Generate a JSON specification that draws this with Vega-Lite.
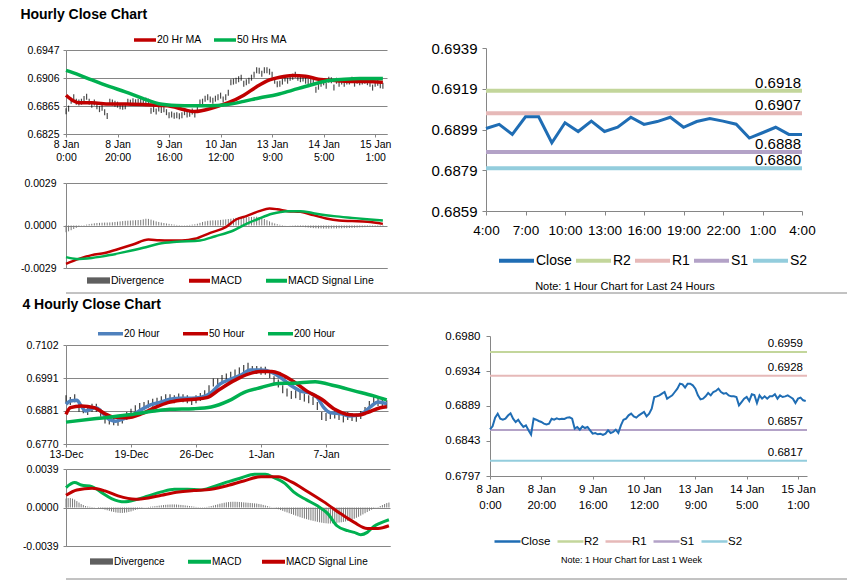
{
"$schema": "https://vega.github.io/schema/vega-lite/v6.json",
"padding": {"left": 20, "top": 8, "right": 0, "bottom": 0},
"autosize": {"type": "pad"},
"spacing": 0,
"resolve": {"scale": {"x": "independent", "y": "independent", "color": "independent", "opacity": "independent"}},
"config": {
  "view": {"stroke": null},
  "font": "Liberation Sans",
  "axis": {"labelFont": "Liberation Sans", "domainColor": "#868686", "tickColor": "#868686", "gridColor": "#868686", "labelColor": "#000000"},
  "legend": {"labelFont": "Liberation Sans", "labelColor": "#000000"},
  "title": {"font": "Liberation Sans", "color": "#000000"}
},
"datasets": {
  "h": [
{"i":0,"c":0.6858,"d":-0.00046},{"i":1,"c":0.68619,"d":-0.0004},{"i":2,"c":0.68733,"d":-0.00032},{"i":3,"c":0.68785,"d":-0.00024},{"i":4,"c":0.68719,"d":-0.00016},{"i":5,"c":0.68706,"d":-0.00008},{"i":6,"c":0.68719,"d":-0.00002},{"i":7,"c":0.6876,"d":0.00003},{"i":8,"c":0.6879,"d":0.00006},{"i":9,"c":0.6872,"d":0.00009},
{"i":10,"c":0.68676,"d":0.00012},{"i":11,"c":0.68706,"d":0.00015},{"i":12,"c":0.68654,"d":0.00017},{"i":13,"c":0.68611,"d":0.00018},{"i":14,"c":0.68632,"d":0.00019},{"i":15,"c":0.68567,"d":0.0002},{"i":16,"c":0.6851,"d":0.0002},{"i":17,"c":0.68719,"d":0.00021},{"i":18,"c":0.68706,"d":0.00022},{"i":19,"c":0.68689,"d":0.00024},
{"i":20,"c":0.68676,"d":0.00026},{"i":21,"c":0.68654,"d":0.00028},{"i":22,"c":0.68645,"d":0.0003},{"i":23,"c":0.68654,"d":0.00032},{"i":24,"c":0.68719,"d":0.00033},{"i":25,"c":0.68706,"d":0.00034},{"i":26,"c":0.68724,"d":0.00035},{"i":27,"c":0.68711,"d":0.00036},{"i":28,"c":0.68719,"d":0.00037},{"i":29,"c":0.68715,"d":0.00038},
{"i":30,"c":0.68733,"d":0.00042},{"i":31,"c":0.68737,"d":0.00046},{"i":32,"c":0.68719,"d":0.00045},{"i":33,"c":0.68589,"d":0.0004},{"i":34,"c":0.68611,"d":0.00034},{"i":35,"c":0.68576,"d":0.00028},{"i":36,"c":0.68619,"d":0.00024},{"i":37,"c":0.68597,"d":0.0002},{"i":38,"c":0.68611,"d":0.00017},{"i":39,"c":0.68567,"d":0.00014},
{"i":40,"c":0.68523,"d":0.00011},{"i":41,"c":0.68532,"d":0.00008},{"i":42,"c":0.68515,"d":0.00006},{"i":43,"c":0.68523,"d":0.00004},{"i":44,"c":0.68506,"d":0.00003},{"i":45,"c":0.68523,"d":0.00002},{"i":46,"c":0.68567,"d":0.00002},{"i":47,"c":0.68532,"d":0.00003},{"i":48,"c":0.68545,"d":0.00004},{"i":49,"c":0.68576,"d":0.00006},
{"i":50,"c":0.68532,"d":0.00008},{"i":51,"c":0.68632,"d":0.00012},{"i":52,"c":0.68706,"d":0.00018},{"i":53,"c":0.68719,"d":0.00024},{"i":54,"c":0.68763,"d":0.00028},{"i":55,"c":0.68785,"d":0.00032},{"i":56,"c":0.6875,"d":0.00034},{"i":57,"c":0.68733,"d":0.00035},{"i":58,"c":0.68763,"d":0.00035},{"i":59,"c":0.68785,"d":0.00036},
{"i":60,"c":0.68807,"d":0.00038},{"i":61,"c":0.6875,"d":0.0004},{"i":62,"c":0.68785,"d":0.00042},{"i":63,"c":0.6885,"d":0.00044},{"i":64,"c":0.69003,"d":0.00046},{"i":65,"c":0.69011,"d":0.00049},{"i":66,"c":0.69024,"d":0.00052},{"i":67,"c":0.69046,"d":0.00054},{"i":68,"c":0.69068,"d":0.00055},{"i":69,"c":0.68981,"d":0.00056},
{"i":70,"c":0.69003,"d":0.00057},{"i":71,"c":0.69024,"d":0.00058},{"i":72,"c":0.69068,"d":0.00058},{"i":73,"c":0.69112,"d":0.00059},{"i":74,"c":0.69177,"d":0.0006},{"i":75,"c":0.69168,"d":0.00056},{"i":76,"c":0.69125,"d":0.0005},{"i":77,"c":0.69177,"d":0.00044},{"i":78,"c":0.69177,"d":0.00036},{"i":79,"c":0.69155,"d":0.00028},
{"i":80,"c":0.69112,"d":0.0002},{"i":81,"c":0.69024,"d":0.00014},{"i":82,"c":0.68972,"d":0.00009},{"i":83,"c":0.68981,"d":0.00005},{"i":84,"c":0.69011,"d":0.00003},{"i":85,"c":0.69055,"d":0.00001},{"i":86,"c":0.69024,"d":0},{"i":87,"c":0.69068,"d":-0.00001},{"i":88,"c":0.69081,"d":-0.00002},{"i":89,"c":0.69112,"d":-0.00004},
{"i":90,"c":0.69068,"d":-0.00006},{"i":91,"c":0.69046,"d":-0.00008},{"i":92,"c":0.69055,"d":-0.0001},{"i":93,"c":0.69024,"d":-0.00012},{"i":94,"c":0.69011,"d":-0.00014},{"i":95,"c":0.69011,"d":-0.00016},{"i":96,"c":0.69003,"d":-0.00018},{"i":97,"c":0.68894,"d":-0.00019},{"i":98,"c":0.68937,"d":-0.0002},{"i":99,"c":0.68981,"d":-0.0002},
{"i":100,"c":0.69003,"d":-0.00021},{"i":101,"c":0.6895,"d":-0.00021},{"i":102,"c":0.69038,"d":-0.00021},{"i":103,"c":0.69029,"d":-0.0002},{"i":104,"c":0.68924,"d":-0.0002},{"i":105,"c":0.69024,"d":-0.0002},{"i":106,"c":0.68981,"d":-0.00019},{"i":107,"c":0.69011,"d":-0.00019},{"i":108,"c":0.68981,"d":-0.00018},{"i":109,"c":0.69011,"d":-0.00018},
{"i":110,"c":0.69011,"d":-0.00017},{"i":111,"c":0.69038,"d":-0.00016},{"i":112,"c":0.68981,"d":-0.00015},{"i":113,"c":0.69024,"d":-0.00014},{"i":114,"c":0.69003,"d":-0.00013},{"i":115,"c":0.69011,"d":-0.00012},{"i":116,"c":0.69024,"d":-0.00011},{"i":117,"c":0.69003,"d":-0.0001},{"i":118,"c":0.68981,"d":-0.0001},{"i":119,"c":0.68924,"d":-0.00009},
{"i":120,"c":0.68981,"d":-0.00009},{"i":121,"c":0.68994,"d":-0.00008},{"i":122,"c":0.68959,"d":-0.00008},{"i":123,"c":0.6895,"d":-0.00008}
  ],
  "hma": [
{"s":"20 Hr MA","i":0,"v":0.68813},{"s":"20 Hr MA","i":3,"v":0.68729},{"s":"20 Hr MA","i":5,"v":0.68704},{"s":"20 Hr MA","i":10,"v":0.68704},{"s":"20 Hr MA","i":17,"v":0.68685},{"s":"20 Hr MA","i":23,"v":0.68685},{"s":"20 Hr MA","i":31,"v":0.68675},{"s":"20 Hr MA","i":36,"v":0.68665},{"s":"20 Hr MA","i":41,"v":0.6865},{"s":"20 Hr MA","i":46,"v":0.68601},{"s":"20 Hr MA","i":50,"v":0.68576},{"s":"20 Hr MA","i":53,"v":0.68591},{"s":"20 Hr MA","i":58,"v":0.6864},{"s":"20 Hr MA","i":63,"v":0.68704},{"s":"20 Hr MA","i":69,"v":0.68813},{"s":"20 Hr MA","i":74,"v":0.68937},{"s":"20 Hr MA","i":79,"v":0.69035},{"s":"20 Hr MA","i":83,"v":0.69075},{"s":"20 Hr MA","i":88,"v":0.691},{"s":"20 Hr MA","i":93,"v":0.6909},{"s":"20 Hr MA","i":98,"v":0.69045},{"s":"20 Hr MA","i":101,"v":0.69035},{"s":"20 Hr MA","i":106,"v":0.6902},{"s":"20 Hr MA","i":111,"v":0.69011},{"s":"20 Hr MA","i":117,"v":0.69011},{"s":"20 Hr MA","i":123,"v":0.69001},
{"s":"50 Hrs MA","i":0,"v":0.69174},{"s":"50 Hrs MA","i":5,"v":0.69109},{"s":"50 Hrs MA","i":10,"v":0.69035},{"s":"50 Hrs MA","i":17,"v":0.68937},{"s":"50 Hrs MA","i":23,"v":0.68862},{"s":"50 Hrs MA","i":30,"v":0.68764},{"s":"50 Hrs MA","i":36,"v":0.6869},{"s":"50 Hrs MA","i":43,"v":0.68665},{"s":"50 Hrs MA","i":49,"v":0.6866},{"s":"50 Hrs MA","i":56,"v":0.6866},{"s":"50 Hrs MA","i":62,"v":0.68675},{"s":"50 Hrs MA","i":69,"v":0.68724},{"s":"50 Hrs MA","i":75,"v":0.68774},{"s":"50 Hrs MA","i":82,"v":0.68823},{"s":"50 Hrs MA","i":88,"v":0.68887},{"s":"50 Hrs MA","i":95,"v":0.68961},{"s":"50 Hrs MA","i":101,"v":0.6902},{"s":"50 Hrs MA","i":108,"v":0.69045},{"s":"50 Hrs MA","i":114,"v":0.69055},{"s":"50 Hrs MA","i":123,"v":0.69055}
  ],
  "hmacd": [
{"s":"MACD","i":0,"v":-0.00262},{"s":"MACD","i":5,"v":-0.00228},{"s":"MACD","i":10,"v":-0.00202},{"s":"MACD","i":15,"v":-0.00187},{"s":"MACD","i":21,"v":-0.00157},{"s":"MACD","i":26,"v":-0.0013},{"s":"MACD","i":32,"v":-0.00096},{"s":"MACD","i":36,"v":-0.001},{"s":"MACD","i":40,"v":-0.00102},{"s":"MACD","i":45,"v":-0.00102},{"s":"MACD","i":50,"v":-0.00091},{"s":"MACD","i":56,"v":-0.0005},{"s":"MACD","i":62,"v":-0.00011},{"s":"MACD","i":66,"v":0.00041},{"s":"MACD","i":70,"v":0.00064},{"s":"MACD","i":75,"v":0.00098},{"s":"MACD","i":79,"v":0.00116},{"s":"MACD","i":82,"v":0.00111},{"s":"MACD","i":86,"v":0.00098},{"s":"MACD","i":91,"v":0.00093},{"s":"MACD","i":96,"v":0.00071},{"s":"MACD","i":101,"v":0.00048},{"s":"MACD","i":106,"v":0.00034},{"s":"MACD","i":111,"v":0.0003},{"s":"MACD","i":117,"v":0.00025},{"s":"MACD","i":123,"v":0.00011},
{"s":"MACD Signal Line","i":0,"v":-0.00216},{"s":"MACD Signal Line","i":4,"v":-0.00228},{"s":"MACD Signal Line","i":10,"v":-0.00221},{"s":"MACD Signal Line","i":17,"v":-0.00202},{"s":"MACD Signal Line","i":23,"v":-0.0018},{"s":"MACD Signal Line","i":30,"v":-0.00152},{"s":"MACD Signal Line","i":36,"v":-0.00125},{"s":"MACD Signal Line","i":43,"v":-0.00111},{"s":"MACD Signal Line","i":52,"v":-0.00102},{"s":"MACD Signal Line","i":58,"v":-0.00073},{"s":"MACD Signal Line","i":65,"v":-0.00034},{"s":"MACD Signal Line","i":70,"v":0.00011},{"s":"MACD Signal Line","i":75,"v":0.00048},{"s":"MACD Signal Line","i":80,"v":0.0008},{"s":"MACD Signal Line","i":86,"v":0.00098},{"s":"MACD Signal Line","i":91,"v":0.00098},{"s":"MACD Signal Line","i":96,"v":0.00084},{"s":"MACD Signal Line","i":104,"v":0.00064},{"s":"MACD Signal Line","i":111,"v":0.00052},{"s":"MACD Signal Line","i":118,"v":0.00041},{"s":"MACD Signal Line","i":123,"v":0.00034}
  ],
  "c24": [
{"h":0,"c":0.68995},{"h":1,"c":0.69015},{"h":2,"c":0.68966},{"h":3,"c":0.69052},{"h":4,"c":0.69052},{"h":5,"c":0.68925},{"h":6,"c":0.69023},{"h":7,"c":0.6898},{"h":8,"c":0.69031},{"h":9,"c":0.6898},{"h":10,"c":0.69001},{"h":11,"c":0.6905},{"h":12,"c":0.69015},{"h":13,"c":0.69029},{"h":14,"c":0.6905},{"h":15,"c":0.69001},{"h":16,"c":0.69029},{"h":17,"c":0.69044},{"h":18,"c":0.69031},{"h":19,"c":0.69016},{"h":20,"c":0.68948},{"h":21,"c":0.68974},{"h":22,"c":0.69001},{"h":23,"c":0.68966},{"h":24,"c":0.68966}
  ],
  "lv24": [{"s":"R2","v":0.6918},{"s":"R1","v":0.6907},{"s":"S1","v":0.6888},{"s":"S2","v":0.688}],
  "lvw": [{"s":"R2","v":0.6959},{"s":"R1","v":0.6928},{"s":"S1","v":0.6857},{"s":"S2","v":0.6817}],
  "d4": [
{"i":0,"c":0.692},{"i":2,"c":0.69144},{"i":4,"c":0.69234},{"i":6,"c":0.68918},{"i":8,"c":0.68862},{"i":10,"c":0.68806},{"i":12,"c":0.68918},{"i":14,"c":0.68918},{"i":16,"c":0.68749},{"i":18,"c":0.68524},
{"i":20,"c":0.6849},{"i":22,"c":0.68467},{"i":24,"c":0.68445},{"i":26,"c":0.68524},{"i":28,"c":0.68637},{"i":30,"c":0.68749},{"i":32,"c":0.68862},{"i":34,"c":0.68941},{"i":36,"c":0.68975},{"i":38,"c":0.69031},
{"i":40,"c":0.69087},{"i":42,"c":0.69121},{"i":44,"c":0.69166},{"i":46,"c":0.69234},{"i":48,"c":0.69234},{"i":50,"c":0.692},{"i":52,"c":0.69256},{"i":54,"c":0.69234},{"i":56,"c":0.692},{"i":58,"c":0.69144},
{"i":60,"c":0.692},{"i":62,"c":0.69279},{"i":64,"c":0.69369},{"i":66,"c":0.69538},{"i":68,"c":0.69763},{"i":70,"c":0.69763},{"i":72,"c":0.69876},{"i":74,"c":0.69933},{"i":76,"c":0.69989},{"i":78,"c":0.70068},
{"i":80,"c":0.70135},{"i":82,"c":0.70214},{"i":84,"c":0.70293},{"i":86,"c":0.7018},{"i":88,"c":0.7018},{"i":90,"c":0.70158},{"i":92,"c":0.70158},{"i":94,"c":0.70045},{"i":96,"c":0.69842},{"i":98,"c":0.6973},
{"i":100,"c":0.69538},{"i":102,"c":0.69425},{"i":104,"c":0.69346},{"i":106,"c":0.69369},{"i":108,"c":0.69313},{"i":110,"c":0.69256},{"i":112,"c":0.692},{"i":114,"c":0.69144},{"i":116,"c":0.68975},{"i":118,"c":0.68637},
{"i":120,"c":0.68603},{"i":122,"c":0.6867},{"i":124,"c":0.68693},{"i":126,"c":0.68637},{"i":128,"c":0.68558},{"i":130,"c":0.68637},{"i":132,"c":0.68603},{"i":134,"c":0.6858},{"i":136,"c":0.6867},{"i":138,"c":0.68806},
{"i":140,"c":0.69008},{"i":142,"c":0.69144},{"i":144,"c":0.6911},{"i":146,"c":0.69087},{"i":148,"c":0.69031}
  ],
  "d4ma": [
{"s":"20 Hour","i":0,"v":0.69031},{"s":"20 Hour","i":2,"v":0.69144},{"s":"20 Hour","i":5,"v":0.69166},{"s":"20 Hour","i":7,"v":0.68975},{"s":"20 Hour","i":9,"v":0.68806},{"s":"20 Hour","i":11,"v":0.68862},{"s":"20 Hour","i":14,"v":0.68918},{"s":"20 Hour","i":16,"v":0.68806},{"s":"20 Hour","i":19,"v":0.6858},{"s":"20 Hour","i":23,"v":0.68467},{"s":"20 Hour","i":27,"v":0.68558},{"s":"20 Hour","i":30,"v":0.68637},{"s":"20 Hour","i":35,"v":0.68862},{"s":"20 Hour","i":39,"v":0.69008},{"s":"20 Hour","i":44,"v":0.6911},{"s":"20 Hour","i":48,"v":0.692},{"s":"20 Hour","i":53,"v":0.69234},{"s":"20 Hour","i":58,"v":0.69234},{"s":"20 Hour","i":62,"v":0.69256},{"s":"20 Hour","i":67,"v":0.69425},{"s":"20 Hour","i":71,"v":0.69707},{"s":"20 Hour","i":76,"v":0.69876},{"s":"20 Hour","i":81,"v":0.70023},{"s":"20 Hour","i":85,"v":0.7018},{"s":"20 Hour","i":90,"v":0.7018},{"s":"20 Hour","i":95,"v":0.70102},{"s":"20 Hour","i":99,"v":0.69932},{"s":"20 Hour","i":104,"v":0.69651},{"s":"20 Hour","i":108,"v":0.69482},{"s":"20 Hour","i":113,"v":0.69392},{"s":"20 Hour","i":116,"v":0.69256},{"s":"20 Hour","i":119,"v":0.68918},{"s":"20 Hour","i":122,"v":0.6875},{"s":"20 Hour","i":127,"v":0.68715},{"s":"20 Hour","i":131,"v":0.68637},{"s":"20 Hour","i":136,"v":0.68693},{"s":"20 Hour","i":141,"v":0.68975},{"s":"20 Hour","i":144,"v":0.6911},{"s":"20 Hour","i":148,"v":0.69053},
{"s":"50 Hour","i":0,"v":0.68693},{"s":"50 Hour","i":2,"v":0.68918},{"s":"50 Hour","i":7,"v":0.68975},{"s":"50 Hour","i":13,"v":0.68918},{"s":"50 Hour","i":18,"v":0.68715},{"s":"50 Hour","i":22,"v":0.68603},{"s":"50 Hour","i":28,"v":0.6858},{"s":"50 Hour","i":35,"v":0.68715},{"s":"50 Hour","i":41,"v":0.68918},{"s":"50 Hour","i":47,"v":0.69087},{"s":"50 Hour","i":53,"v":0.69166},{"s":"50 Hour","i":59,"v":0.692},{"s":"50 Hour","i":65,"v":0.69256},{"s":"50 Hour","i":71,"v":0.69538},{"s":"50 Hour","i":78,"v":0.69842},{"s":"50 Hour","i":84,"v":0.70045},{"s":"50 Hour","i":90,"v":0.70135},{"s":"50 Hour","i":95,"v":0.70135},{"s":"50 Hour","i":99,"v":0.70045},{"s":"50 Hour","i":105,"v":0.69797},{"s":"50 Hour","i":111,"v":0.69482},{"s":"50 Hour","i":118,"v":0.692},{"s":"50 Hour","i":124,"v":0.68862},{"s":"50 Hour","i":130,"v":0.68693},{"s":"50 Hour","i":135,"v":0.6867},{"s":"50 Hour","i":139,"v":0.6875},{"s":"50 Hour","i":145,"v":0.68918},{"s":"50 Hour","i":148,"v":0.68952},
{"s":"200 Hour","i":0,"v":0.68434},{"s":"200 Hour","i":13,"v":0.68546},{"s":"200 Hour","i":28,"v":0.6867},{"s":"200 Hour","i":41,"v":0.68806},{"s":"200 Hour","i":48,"v":0.68862},{"s":"200 Hour","i":59,"v":0.68884},{"s":"200 Hour","i":67,"v":0.68941},{"s":"200 Hour","i":75,"v":0.69144},{"s":"200 Hour","i":82,"v":0.69425},{"s":"200 Hour","i":90,"v":0.69594},{"s":"200 Hour","i":98,"v":0.6973},{"s":"200 Hour","i":105,"v":0.69741},{"s":"200 Hour","i":115,"v":0.69786},{"s":"200 Hour","i":124,"v":0.69651},{"s":"200 Hour","i":133,"v":0.69482},{"s":"200 Hour","i":142,"v":0.69313},{"s":"200 Hour","i":148,"v":0.69178}
  ],
  "d4macd": [
{"s":"MACD","i":0,"v":0.00202},{"s":"MACD","i":4,"v":0.00252},{"s":"MACD","i":7,"v":0.00228},{"s":"MACD","i":12,"v":0.00212},{"s":"MACD","i":16,"v":0.00158},{"s":"MACD","i":21,"v":0.00091},{"s":"MACD","i":27,"v":0.00057},{"s":"MACD","i":32,"v":0.00077},{"s":"MACD","i":38,"v":0.00118},{"s":"MACD","i":44,"v":0.00158},{"s":"MACD","i":50,"v":0.00185},{"s":"MACD","i":56,"v":0.00185},{"s":"MACD","i":62,"v":0.00178},{"s":"MACD","i":68,"v":0.00212},{"s":"MACD","i":75,"v":0.00262},{"s":"MACD","i":81,"v":0.00302},{"s":"MACD","i":87,"v":0.00336},{"s":"MACD","i":92,"v":0.00336},{"s":"MACD","i":96,"v":0.00302},{"s":"MACD","i":101,"v":0.00245},{"s":"MACD","i":105,"v":0.00158},{"s":"MACD","i":111,"v":0.00077},{"s":"MACD","i":116,"v":0.00017},{"s":"MACD","i":121,"v":-0.00067},{"s":"MACD","i":125,"v":-0.00185},{"s":"MACD","i":130,"v":-0.00235},{"s":"MACD","i":133,"v":-0.00252},{"s":"MACD","i":136,"v":-0.00276},{"s":"MACD","i":139,"v":-0.00252},{"s":"MACD","i":142,"v":-0.00192},{"s":"MACD","i":145,"v":-0.00158},{"s":"MACD","i":149,"v":-0.00124},
{"s":"MACD Signal Line","i":0,"v":0.00124},{"s":"MACD Signal Line","i":5,"v":0.00178},{"s":"MACD Signal Line","i":12,"v":0.00195},{"s":"MACD Signal Line","i":18,"v":0.00168},{"s":"MACD Signal Line","i":24,"v":0.00118},{"s":"MACD Signal Line","i":32,"v":0.00084},{"s":"MACD Signal Line","i":38,"v":0.00097},{"s":"MACD Signal Line","i":44,"v":0.00124},{"s":"MACD Signal Line","i":52,"v":0.00158},{"s":"MACD Signal Line","i":59,"v":0.00171},{"s":"MACD Signal Line","i":67,"v":0.00185},{"s":"MACD Signal Line","i":75,"v":0.00225},{"s":"MACD Signal Line","i":82,"v":0.00269},{"s":"MACD Signal Line","i":90,"v":0.00312},{"s":"MACD Signal Line","i":98,"v":0.00312},{"s":"MACD Signal Line","i":104,"v":0.00259},{"s":"MACD Signal Line","i":111,"v":0.00168},{"s":"MACD Signal Line","i":119,"v":0.00057},{"s":"MACD Signal Line","i":127,"v":-0.00067},{"s":"MACD Signal Line","i":133,"v":-0.00151},{"s":"MACD Signal Line","i":139,"v":-0.00212},{"s":"MACD Signal Line","i":144,"v":-0.00212},{"s":"MACD Signal Line","i":149,"v":-0.00185}
  ],
  "d4div": [
{"i":0,"d":0.0009},{"i":1,"d":0.00095},{"i":2,"d":0.00095},{"i":3,"d":0.0009},{"i":4,"d":0.0008},{"i":5,"d":0.00065},{"i":6,"d":0.0005},{"i":7,"d":0.00035},{"i":8,"d":0.00025},{"i":9,"d":0.00015},
{"i":10,"d":0.0001},{"i":11,"d":0.00007},{"i":12,"d":0.00005},{"i":13,"d":0.00003},{"i":14,"d":0},{"i":15,"d":-0.00005},{"i":16,"d":-0.0001},{"i":17,"d":-0.00016},{"i":18,"d":-0.00022},{"i":19,"d":-0.00028},
{"i":20,"d":-0.00034},{"i":21,"d":-0.0004},{"i":22,"d":-0.00045},{"i":23,"d":-0.0005},{"i":24,"d":-0.00053},{"i":25,"d":-0.00055},{"i":26,"d":-0.00055},{"i":27,"d":-0.00053},{"i":28,"d":-0.0005},{"i":29,"d":-0.00045},
{"i":30,"d":-0.0004},{"i":31,"d":-0.00032},{"i":32,"d":-0.00025},{"i":33,"d":-0.00018},{"i":34,"d":-0.00012},{"i":35,"d":-0.00006},{"i":36,"d":-0.00002},{"i":37,"d":0.00002},{"i":38,"d":0.00005},{"i":39,"d":0.00008},
{"i":40,"d":0.0001},{"i":41,"d":0.00013},{"i":42,"d":0.00016},{"i":43,"d":0.00019},{"i":44,"d":0.00022},{"i":45,"d":0.00025},{"i":46,"d":0.00027},{"i":47,"d":0.00029},{"i":48,"d":0.0003},{"i":49,"d":0.00031},
{"i":50,"d":0.00031},{"i":51,"d":0.0003},{"i":52,"d":0.00028},{"i":53,"d":0.00026},{"i":54,"d":0.00024},{"i":55,"d":0.00021},{"i":56,"d":0.00018},{"i":57,"d":0.00015},{"i":58,"d":0.00012},{"i":59,"d":0.00009},
{"i":60,"d":0.00006},{"i":61,"d":0.00004},{"i":62,"d":0.00003},{"i":63,"d":0.00003},{"i":64,"d":0.00004},{"i":65,"d":0.00006},{"i":66,"d":0.0001},{"i":67,"d":0.00015},{"i":68,"d":0.0002},{"i":69,"d":0.00026},
{"i":70,"d":0.00032},{"i":71,"d":0.00038},{"i":72,"d":0.00043},{"i":73,"d":0.00048},{"i":74,"d":0.00052},{"i":75,"d":0.00055},{"i":76,"d":0.00057},{"i":77,"d":0.00058},{"i":78,"d":0.00058},{"i":79,"d":0.00057},
{"i":80,"d":0.00056},{"i":81,"d":0.00054},{"i":82,"d":0.00052},{"i":83,"d":0.0005},{"i":84,"d":0.00048},{"i":85,"d":0.00046},{"i":86,"d":0.00044},{"i":87,"d":0.00042},{"i":88,"d":0.0004},{"i":89,"d":0.00036},
{"i":90,"d":0.00032},{"i":91,"d":0.00026},{"i":92,"d":0.0002},{"i":93,"d":0.00014},{"i":94,"d":0.00008},{"i":95,"d":0.00003},{"i":96,"d":-0.00003},{"i":97,"d":-0.0001},{"i":98,"d":-0.00018},{"i":99,"d":-0.00026},
{"i":100,"d":-0.00034},{"i":101,"d":-0.00042},{"i":102,"d":-0.0005},{"i":103,"d":-0.00058},{"i":104,"d":-0.00066},{"i":105,"d":-0.00074},{"i":106,"d":-0.00082},{"i":107,"d":-0.0009},{"i":108,"d":-0.00098},{"i":109,"d":-0.00105},
{"i":110,"d":-0.00112},{"i":111,"d":-0.00118},{"i":112,"d":-0.00124},{"i":113,"d":-0.0013},{"i":114,"d":-0.00135},{"i":115,"d":-0.0014},{"i":116,"d":-0.00145},{"i":117,"d":-0.0015},{"i":118,"d":-0.00154},{"i":119,"d":-0.00158},
{"i":120,"d":-0.0016},{"i":121,"d":-0.00162},{"i":122,"d":-0.00162},{"i":123,"d":-0.0016},{"i":124,"d":-0.00158},{"i":125,"d":-0.00155},{"i":126,"d":-0.00152},{"i":127,"d":-0.0015},{"i":128,"d":-0.00146},{"i":129,"d":-0.00142},
{"i":130,"d":-0.00136},{"i":131,"d":-0.0013},{"i":132,"d":-0.00122},{"i":133,"d":-0.00114},{"i":134,"d":-0.00104},{"i":135,"d":-0.00094},{"i":136,"d":-0.00082},{"i":137,"d":-0.0007},{"i":138,"d":-0.00058},{"i":139,"d":-0.00046},
{"i":140,"d":-0.00034},{"i":141,"d":-0.00022},{"i":142,"d":-0.00012},{"i":143,"d":-0.00003},{"i":144,"d":0.00005},{"i":145,"d":0.00015},{"i":146,"d":0.00025},{"i":147,"d":0.00035},{"i":148,"d":0.00045},{"i":149,"d":0.0005}
  ],
  "sep": [{"a": 0, "b": 1, "lvl": 1}],
  "none": [{"a": 0}]
},
"vconcat": [
 {
  "title": {"text": "Hourly Close Chart", "anchor": "start", "frame": "bounds", "fontSize": 14, "fontWeight": "bold", "offset": 0},
  "spacing": 40,
  "resolve": {"scale": {"x": "independent", "y": "independent", "color": "independent", "opacity": "independent"}},
  "hconcat": [
   {
    "vconcat": [
     {"width": 321, "height": 28, "data": {"name": "none"}, "mark": {"type": "point", "opacity": 0}, "encoding": {}},
     {
      "width": 321, "height": 84,
      "layer": [
       {"data": {"name": "h"},
        "mark": {"type": "tick", "orient": "vertical", "size": 6, "thickness": 1.2, "color": "#000000"},
        "encoding": {
         "x": {"field": "i", "type": "quantitative", "scale": {"domain": [0, 124.6], "nice": false, "zero": false},
               "axis": {"values": [0,20,40,60,80,100,120], "tickCount": 50, "labelExpr": "[['8 Jan','0:00'],['8 Jan','20:00'],['9 Jan','16:00'],['10 Jan','12:00'],['13 Jan','9:00'],['14 Jan','5:00'],['15 Jan','1:00']][round(datum.value/20)]", "title": null, "grid": false, "tickSize": 3, "labelPadding": 2, "labelFontSize": 10.5, "labelLineHeight": 13, "labelFlush": false, "labelOverlap": false}},
         "y": {"field": "c", "type": "quantitative", "scale": {"domain": [0.6825, 0.6947], "nice": false, "zero": false},
               "axis": {"values": [0.6825, 0.6865, 0.6906, 0.6947], "tickCount": 50, "format": ".4f", "title": null, "grid": true, "tickSize": 3, "labelPadding": 4, "labelFontSize": 10.5, "labelOverlap": false}}
        }},
       {"data": {"name": "hma"},
        "mark": {"type": "line", "strokeWidth": 3.5, "interpolate": "monotone"},
        "encoding": {
         "x": {"field": "i", "type": "quantitative"},
         "y": {"field": "v", "type": "quantitative"},
         "color": {"field": "s", "type": "nominal", "scale": {"domain": ["20 Hr MA", "50 Hrs MA"], "range": ["#C00000", "#00B050"]},
                   "legend": {"orient": "none", "legendX": 66, "legendY": -23, "direction": "horizontal", "symbolType": "stroke", "symbolSize": 484, "symbolStrokeWidth": 3.5, "labelFontSize": 10.5, "columnPadding": 5, "labelOffset": -1, "padding": 0, "title": null}}
        }}
      ]
     },
     {"width": 321, "height": 49, "data": {"name": "none"}, "mark": {"type": "point", "opacity": 0}, "encoding": {}},
     {
      "width": 321, "height": 85,
      "layer": [
       {"data": {"name": "h"},
        "mark": {"type": "rule", "strokeWidth": 1, "color": "#7A7A7A"},
        "encoding": {
         "x": {"field": "i", "type": "quantitative", "scale": {"domain": [0, 124.6], "nice": false, "zero": false},
               "axis": {"labels": false, "ticks": false, "title": null, "grid": false}},
         "y": {"field": "d", "type": "quantitative", "scale": {"domain": [-0.0029, 0.0029], "nice": false, "zero": false},
               "axis": {"values": [-0.0029, 0, 0.0029], "tickCount": 50, "labelExpr": "datum.value < 0 ? '-' + format(-datum.value, '.4f') : format(datum.value, '.4f')", "title": null, "grid": true, "tickSize": 3, "labelPadding": 7, "labelFontSize": 10.5, "labelOverlap": false}},
         "y2": {"datum": 0},
         "opacity": {"datum": "Divergence", "type": "nominal", "scale": {"domain": ["Divergence"], "range": [1]},
                   "legend": {"orient": "none", "legendX": 21, "legendY": 86, "direction": "horizontal", "symbolType": "M-1,-0.12H1V0.12H-1Z", "symbolSize": 361, "symbolStrokeWidth": 4, "symbolStrokeColor": "#5F5F5F", "symbolFillColor": "#5F5F5F", "labelFontSize": 10.5, "labelOffset": 1, "padding": 0, "title": null}}
        }},
       {"data": {"name": "hmacd"},
        "mark": {"type": "line", "strokeWidth": 2.5, "interpolate": "monotone"},
        "encoding": {
         "x": {"field": "i", "type": "quantitative"},
         "y": {"field": "v", "type": "quantitative"},
         "color": {"field": "s", "type": "nominal", "scale": {"domain": ["MACD", "MACD Signal Line"], "range": ["#C00000", "#00B050"]},
                   "legend": {"orient": "none", "legendX": 121, "legendY": 85, "direction": "horizontal", "symbolType": "stroke", "symbolSize": 441, "symbolStrokeWidth": 4, "labelFontSize": 10.5, "columnPadding": 16, "labelOffset": -1, "padding": 0, "title": null}}
        }}
      ]
     }
    ],
    "spacing": 0, "bounds": "flush",
    "resolve": {"scale": {"x": "independent", "y": "independent", "color": "independent", "opacity": "independent"}}
   },
   {
    "vconcat": [
     {"width": 316, "height": 26, "data": {"name": "none"}, "mark": {"type": "point", "opacity": 0}, "encoding": {}},
     {
      "width": 316, "height": 163,
      "title": {"text": "Note: 1 Hour Chart for Last 24 Hours", "orient": "bottom", "anchor": "middle", "fontSize": 11, "fontWeight": "normal", "offset": 12, "dx": -19},
      "layer": [
       {"data": {"name": "lv24"},
        "mark": {"type": "rule", "strokeWidth": 4},
        "encoding": {
         "y": {"field": "v", "type": "quantitative", "scale": {"domain": [0.6859, 0.6939], "nice": false, "zero": false},
               "axis": {"values": [0.6859, 0.6879, 0.6899, 0.6919, 0.6939], "tickCount": 50, "format": ".4f", "title": null, "grid": false, "tickSize": 4, "labelPadding": 5, "labelFontSize": 15, "labelOverlap": false}},
         "color": {"field": "s", "type": "nominal", "scale": {"domain": ["Close", "R2", "R1", "S1", "S2"], "range": ["#1F6DB4", "#C3D69B", "#E6B9B8", "#B3A2C7", "#93CDDD"]},
                   "legend": {"orient": "none", "legendX": 11, "legendY": 193, "direction": "horizontal", "symbolType": "stroke", "symbolSize": 1225, "symbolStrokeWidth": 4, "labelFontSize": 14, "columnPadding": -4, "labelOffset": 0, "padding": 0, "title": null}}
        }},
       {"data": {"name": "c24"},
        "mark": {"type": "line", "strokeWidth": 3},
        "encoding": {
         "x": {"field": "h", "type": "quantitative", "scale": {"domain": [0, 24], "nice": false, "zero": false},
               "axis": {"values": [0,3,6,9,12,15,18,21,24], "tickCount": 50, "labelExpr": "['4:00','7:00','10:00','13:00','16:00','19:00','22:00','1:00','4:00'][round(datum.value/3)]", "title": null, "grid": false, "tickSize": 4, "labelPadding": 8, "labelFontSize": 13.5, "labelFlush": false, "labelOverlap": false}},
         "y": {"field": "c", "type": "quantitative"},
         "color": {"datum": "Close", "type": "nominal", "scale": {"domain": ["Close", "R2", "R1", "S1", "S2"], "range": ["#1F6DB4", "#C3D69B", "#E6B9B8", "#B3A2C7", "#93CDDD"]},
                   "legend": {"orient": "none", "legendX": 11, "legendY": 193, "direction": "horizontal", "symbolType": "stroke", "symbolSize": 1225, "symbolStrokeWidth": 4, "labelFontSize": 14, "columnPadding": -4, "labelOffset": 0, "padding": 0, "title": null}}
        }},
       {"data": {"name": "lv24"},
        "mark": {"type": "text", "align": "right", "baseline": "alphabetic", "dy": -3, "dx": -1, "fontSize": 15, "color": "#000000"},
        "encoding": {
         "x": {"datum": 24, "type": "quantitative"},
         "y": {"field": "v", "type": "quantitative"},
         "text": {"field": "v", "type": "quantitative", "format": ".4f"}
        }}
      ]
     }
    ],
    "spacing": 0, "bounds": "flush",
    "resolve": {"scale": {"x": "independent", "y": "independent", "color": "independent"}}
   }
  ]
 },
 {
  "width": 816, "height": 5,
  "data": {"name": "sep"},
  "mark": {"type": "rule", "color": "#868686", "strokeWidth": 1},
  "encoding": {
   "x": {"field": "a", "type": "quantitative", "scale": {"domain": [0, 1]}, "axis": null},
   "x2": {"field": "b"},
   "y": {"field": "lvl", "type": "quantitative", "scale": {"domain": [0, 1]}, "axis": null}
  }
 },
 {
  "title": {"text": "4 Hourly Close Chart", "anchor": "start", "frame": "bounds", "fontSize": 14, "fontWeight": "bold", "offset": 0},
  "spacing": 49,
  "resolve": {"scale": {"x": "independent", "y": "independent", "color": "independent", "opacity": "independent"}},
  "hconcat": [
   {
    "vconcat": [
     {"width": 322, "height": 33, "data": {"name": "none"}, "mark": {"type": "point", "opacity": 0}, "encoding": {}},
     {
      "width": 322, "height": 99,
      "layer": [
       {"data": {"name": "d4"},
        "mark": {"type": "tick", "orient": "vertical", "size": 8, "thickness": 1.3, "color": "#000000"},
        "encoding": {
         "x": {"field": "i", "type": "quantitative", "scale": {"domain": [0, 148.6], "nice": false, "zero": false},
               "axis": {"values": [0,30,60,90,120], "tickCount": 50, "labelExpr": "['13-Dec','19-Dec','26-Dec','1-Jan','7-Jan'][round(datum.value/30)]", "title": null, "grid": false, "tickSize": 3, "labelPadding": 2, "labelFontSize": 10.5, "labelFlush": false, "labelOverlap": false}},
         "y": {"field": "c", "type": "quantitative", "scale": {"domain": [0.677, 0.7102], "nice": false, "zero": false},
               "axis": {"values": [0.677, 0.6881, 0.6991, 0.7102], "tickCount": 50, "format": ".4f", "title": null, "grid": true, "tickSize": 3, "labelPadding": 5, "labelFontSize": 10.5, "labelOverlap": false}}
        }},
       {"data": {"name": "d4ma"},
        "mark": {"type": "line", "strokeWidth": 3.5, "interpolate": "monotone"},
        "encoding": {
         "x": {"field": "i", "type": "quantitative"},
         "y": {"field": "v", "type": "quantitative"},
         "color": {"field": "s", "type": "nominal", "scale": {"domain": ["20 Hour", "50 Hour", "200 Hour"], "range": ["#4F81BD", "#C00000", "#00B050"]},
                   "legend": {"orient": "none", "legendX": 30, "legendY": -26, "direction": "horizontal", "symbolType": "stroke", "symbolSize": 625, "symbolStrokeWidth": 3.5, "labelFontSize": 10, "columnPadding": 16, "labelOffset": -1, "padding": 0, "title": null}}
        }}
      ]
     },
     {"width": 322, "height": 25, "data": {"name": "none"}, "mark": {"type": "point", "opacity": 0}, "encoding": {}},
     {
      "width": 324, "height": 77,
      "layer": [
       {"data": {"name": "d4div"},
        "mark": {"type": "rule", "strokeWidth": 1, "color": "#7A7A7A"},
        "encoding": {
         "x": {"field": "i", "type": "quantitative", "scale": {"domain": [0, 149.5], "nice": false, "zero": false},
               "axis": {"labels": false, "ticks": false, "title": null, "grid": false}},
         "y": {"field": "d", "type": "quantitative", "scale": {"domain": [-0.0039, 0.0039], "nice": false, "zero": false},
               "axis": {"values": [-0.0039, 0, 0.0039], "tickCount": 50, "labelExpr": "datum.value < 0 ? '-' + format(-datum.value, '.4f') : format(datum.value, '.4f')", "title": null, "grid": true, "tickSize": 3, "labelPadding": 5, "labelFontSize": 10.5, "labelOverlap": false}},
         "y2": {"datum": 0},
         "opacity": {"datum": "Divergence", "type": "nominal", "scale": {"domain": ["Divergence"], "range": [1]},
                   "legend": {"orient": "none", "legendX": 24, "legendY": 81, "direction": "horizontal", "symbolType": "M-1,-0.12H1V0.12H-1Z", "symbolSize": 361, "symbolStrokeWidth": 4, "symbolStrokeColor": "#5F5F5F", "symbolFillColor": "#5F5F5F", "labelFontSize": 10, "labelOffset": 1, "padding": 0, "title": null}}
        }},
       {"data": {"name": "d4macd"},
        "mark": {"type": "line", "strokeWidth": 3, "interpolate": "monotone"},
        "encoding": {
         "x": {"field": "i", "type": "quantitative"},
         "y": {"field": "v", "type": "quantitative"},
         "color": {"field": "s", "type": "nominal", "scale": {"domain": ["MACD", "MACD Signal Line"], "range": ["#00B050", "#C00000"]},
                   "legend": {"orient": "none", "legendX": 120, "legendY": 79, "direction": "horizontal", "symbolType": "stroke", "symbolSize": 529, "symbolStrokeWidth": 4, "labelFontSize": 10, "columnPadding": 12, "labelOffset": -1, "padding": 0, "title": null}}
        }}
      ]
     }
    ],
    "spacing": 0, "bounds": "flush",
    "resolve": {"scale": {"x": "independent", "y": "independent", "color": "independent", "opacity": "independent"}}
   },
   {
    "vconcat": [
     {"width": 317, "height": 24, "data": {"name": "none"}, "mark": {"type": "point", "opacity": 0}, "encoding": {}},
     {
      "width": 317, "height": 140,
      "title": {"text": "Note: 1 Hour Chart for Last 1 Week", "orient": "bottom", "anchor": "middle", "fontSize": 9, "fontWeight": "normal", "offset": 9, "dx": -17},
      "layer": [
       {"data": {"name": "lvw"},
        "mark": {"type": "rule", "strokeWidth": 2},
        "encoding": {
         "y": {"field": "v", "type": "quantitative", "scale": {"domain": [0.6797, 0.698], "nice": false, "zero": false},
               "axis": {"values": [0.6797, 0.6843, 0.6889, 0.6934, 0.698], "tickCount": 50, "format": ".4f", "title": null, "grid": false, "tickSize": 4, "labelPadding": 6, "labelFontSize": 11.5, "labelOverlap": false}},
         "color": {"field": "s", "type": "nominal", "scale": {"domain": ["Close", "R2", "R1", "S1", "S2"], "range": ["#1F6DB4", "#C3D69B", "#E6B9B8", "#B3A2C7", "#93CDDD"]},
                   "legend": {"orient": "none", "legendX": 3, "legendY": 191, "direction": "horizontal", "symbolType": "stroke", "symbolSize": 676, "symbolStrokeWidth": 2.5, "labelFontSize": 11.5, "columnPadding": 1, "labelOffset": -1, "padding": 0, "title": null}}
        }},
       {"data": {"name": "h"},
        "mark": {"type": "line", "strokeWidth": 2},
        "encoding": {
         "x": {"field": "i", "type": "quantitative", "scale": {"domain": [0, 123.5], "nice": false, "zero": false},
               "axis": {"values": [0,20,40,60,80,100,120], "tickCount": 50, "labelExpr": "[['8 Jan','0:00'],['8 Jan','20:00'],['9 Jan','16:00'],['10 Jan','12:00'],['13 Jan','9:00'],['14 Jan','5:00'],['15 Jan','1:00']][round(datum.value/20)]", "title": null, "grid": false, "tickSize": 3, "labelPadding": 4, "labelFontSize": 11.5, "labelLineHeight": 16, "labelFlush": false, "labelOverlap": false}},
         "y": {"field": "c", "type": "quantitative"},
         "color": {"datum": "Close", "type": "nominal", "scale": {"domain": ["Close", "R2", "R1", "S1", "S2"], "range": ["#1F6DB4", "#C3D69B", "#E6B9B8", "#B3A2C7", "#93CDDD"]},
                   "legend": {"orient": "none", "legendX": 3, "legendY": 191, "direction": "horizontal", "symbolType": "stroke", "symbolSize": 676, "symbolStrokeWidth": 2.5, "labelFontSize": 11.5, "columnPadding": 1, "labelOffset": -1, "padding": 0, "title": null}}
        }},
       {"data": {"name": "lvw"},
        "mark": {"type": "text", "align": "right", "baseline": "alphabetic", "dy": -5, "dx": -4, "fontSize": 11.5, "color": "#000000"},
        "encoding": {
         "x": {"datum": 123.5, "type": "quantitative"},
         "y": {"field": "v", "type": "quantitative"},
         "text": {"field": "v", "type": "quantitative", "format": ".4f"}
        }}
      ]
     }
    ],
    "spacing": 0, "bounds": "flush",
    "resolve": {"scale": {"x": "independent", "y": "independent", "color": "independent"}}
   }
  ]
 },
 {
  "width": 816, "height": 8,
  "data": {"name": "sep"},
  "mark": {"type": "rule", "color": "#868686", "strokeWidth": 1},
  "encoding": {
   "x": {"field": "a", "type": "quantitative", "scale": {"domain": [0, 1]}, "axis": null},
   "x2": {"field": "b"},
   "y": {"field": "lvl", "type": "quantitative", "scale": {"domain": [1, 0]}, "axis": null}
  }
 }
]
}
